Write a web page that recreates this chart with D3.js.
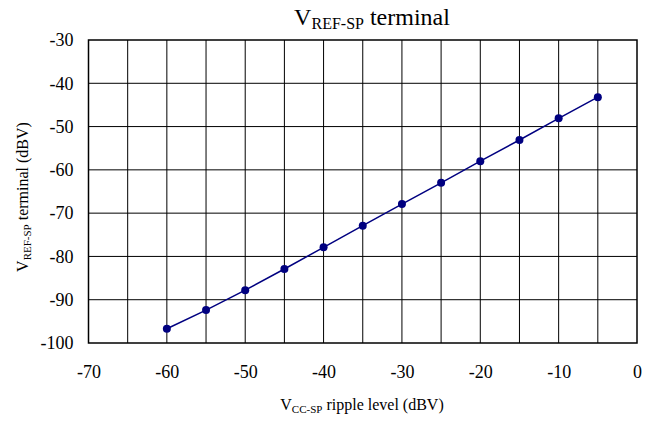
<!DOCTYPE html>
<html><head><meta charset="utf-8">
<script src="https://cdn.jsdelivr.net/npm/d3@7"></script>
<style>body{margin:0;background:#fff;} svg text{font-family:"Liberation Serif","Times New Roman",serif !important;}</style>
</head><body>
<svg id="c" width="649" height="421"></svg>
<script>
const xValues = [-60, -55, -50, -45, -40, -35, -30, -25, -20, -15, -10, -5];
const yValues = [-96.7, -92.4, -87.8, -82.9, -77.9, -72.9, -67.9, -63.0, -58.0, -53.1, -48.1, -43.2];
const xTicks = [-70, -60, -50, -40, -30, -20, -10, 0];
const xGrid = [-65, -60, -55, -50, -45, -40, -35, -30, -25, -20, -15, -10, -5];
const yTicks = [-100, -90, -80, -70, -60, -50, -40, -30];

const svg = d3.select("#c");
const L = 88.5, R = 637, T = 40, B = 343;
const x = d3.scaleLinear().domain([-70, 0]).range([L, R]);
const y = d3.scaleLinear().domain([-100, -30]).range([B, T]);
const fmt = d => String(d);

// grid
svg.append("g").selectAll("line").data(xGrid).join("line")
  .attr("x1", d => x(d)).attr("x2", d => x(d)).attr("y1", T).attr("y2", B)
  .attr("stroke", "#000").attr("stroke-width", 1);
svg.append("g").selectAll("line").data(yTicks.slice(1, -1)).join("line")
  .attr("x1", L).attr("x2", R).attr("y1", d => y(d)).attr("y2", d => y(d))
  .attr("stroke", "#000").attr("stroke-width", 1);
svg.append("rect").attr("x", L).attr("y", T).attr("width", R - L).attr("height", B - T)
  .attr("fill", "none").attr("stroke", "#000").attr("stroke-width", 1.5);

// axes
const xAxis = d3.axisBottom(x).tickValues(xTicks).tickFormat(fmt).tickSize(0).tickPadding(0);
const gx = svg.append("g").attr("transform", `translate(0,${B})`).call(xAxis)
  .attr("font-family", null).attr("font-size", null);
gx.select(".domain").remove();
gx.selectAll("text").attr("dy", null).attr("y", 35).style("font-size", "18px").attr("fill", "#000");

const yAxis = d3.axisLeft(y).tickValues(yTicks).tickFormat(fmt).tickSize(0).tickPadding(15);
const gy = svg.append("g").attr("transform", `translate(${L},0)`).call(yAxis)
  .attr("font-family", null).attr("font-size", null);
gy.select(".domain").remove();
gy.selectAll("text").style("font-size", "18px").attr("fill", "#000");

// line + markers
const line = d3.line().x((d, i) => x(xValues[i])).y(d => y(d));
svg.append("path").datum(yValues).attr("d", line)
  .attr("fill", "none").attr("stroke", "#000080").attr("stroke-width", 1.5);
svg.append("g").selectAll("circle").data(yValues).join("circle")
  .attr("cx", (d, i) => x(xValues[i])).attr("cy", d => y(d)).attr("r", 4)
  .attr("fill", "#000080");

// title
const title = svg.append("text").attr("x", 372).attr("y", 25).attr("text-anchor", "middle")
  .style("font-size", "24px").attr("fill", "#000");
title.append("tspan").text("V");
title.append("tspan").style("font-size", "16px").attr("dy", 4).text("REF-SP");
title.append("tspan").attr("dy", -4).text(" terminal");

// x label
const xl = svg.append("text").attr("x", 362).attr("y", 410).attr("text-anchor", "middle")
  .style("font-size", "16px").attr("fill", "#000");
xl.append("tspan").text("V");
xl.append("tspan").style("font-size", "11px").attr("dy", 3).text("CC-SP");
xl.append("tspan").attr("dy", -3).text(" ripple level (dBV)");

// y label
const yl = svg.append("text").attr("transform", `translate(28,197) rotate(-90)`)
  .attr("text-anchor", "middle").style("font-size", "16px").attr("fill", "#000");
yl.append("tspan").text("V");
yl.append("tspan").style("font-size", "11px").attr("dy", 3).text("REF-SP");
yl.append("tspan").attr("dy", -3).text(" terminal (dBV)");
</script>
</body></html>
